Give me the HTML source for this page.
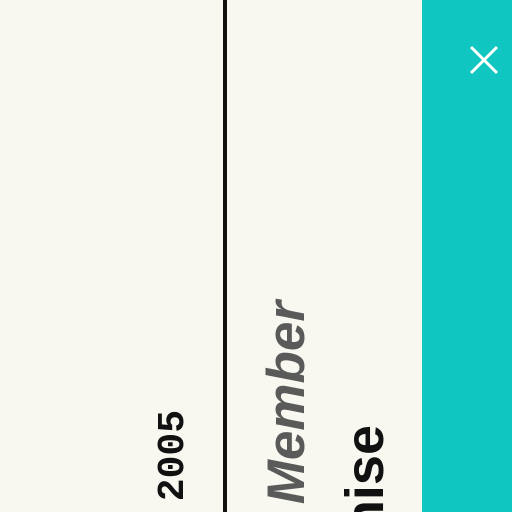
<!DOCTYPE html>
<html style="width:512px;height:512px;overflow:hidden;"><head><meta charset="utf-8"><style>
html,body{margin:0;padding:0;width:512px;height:512px;overflow:hidden;background:#f8f7f0;}
</style></head><body>
<svg width="512" height="512" viewBox="0 0 512 512" style="display:block;overflow:hidden;">
<rect x="0" y="0" width="512" height="512" fill="#f8f7f0"/>
<rect x="223" y="0" width="4" height="512" fill="#111"/>
<text x="183" y="410" transform="rotate(-90 183 410)" text-anchor="end" font-family="Liberation Mono, monospace" font-weight="bold" font-size="38" fill="#111">2005</text>
<text x="304" y="301" transform="rotate(-90 304 301)" text-anchor="end" font-family="Liberation Sans, sans-serif" font-weight="bold" font-style="italic" font-size="53" fill="#5a5a5a">Full Member</text>
<text x="383" y="425" transform="rotate(-90 383 425)" text-anchor="end" font-family="Liberation Sans, sans-serif" font-weight="bold" font-size="54" fill="#111">Franchise</text>
<rect x="422" y="0" width="90" height="512" fill="#10c6c0"/>
<g>
<line x1="471" y1="47" x2="497" y2="73" stroke="#fff" stroke-width="3"/>
<line x1="497" y1="47" x2="471" y2="73" stroke="#fff" stroke-width="3"/>
</g>
</svg>
</body></html>
